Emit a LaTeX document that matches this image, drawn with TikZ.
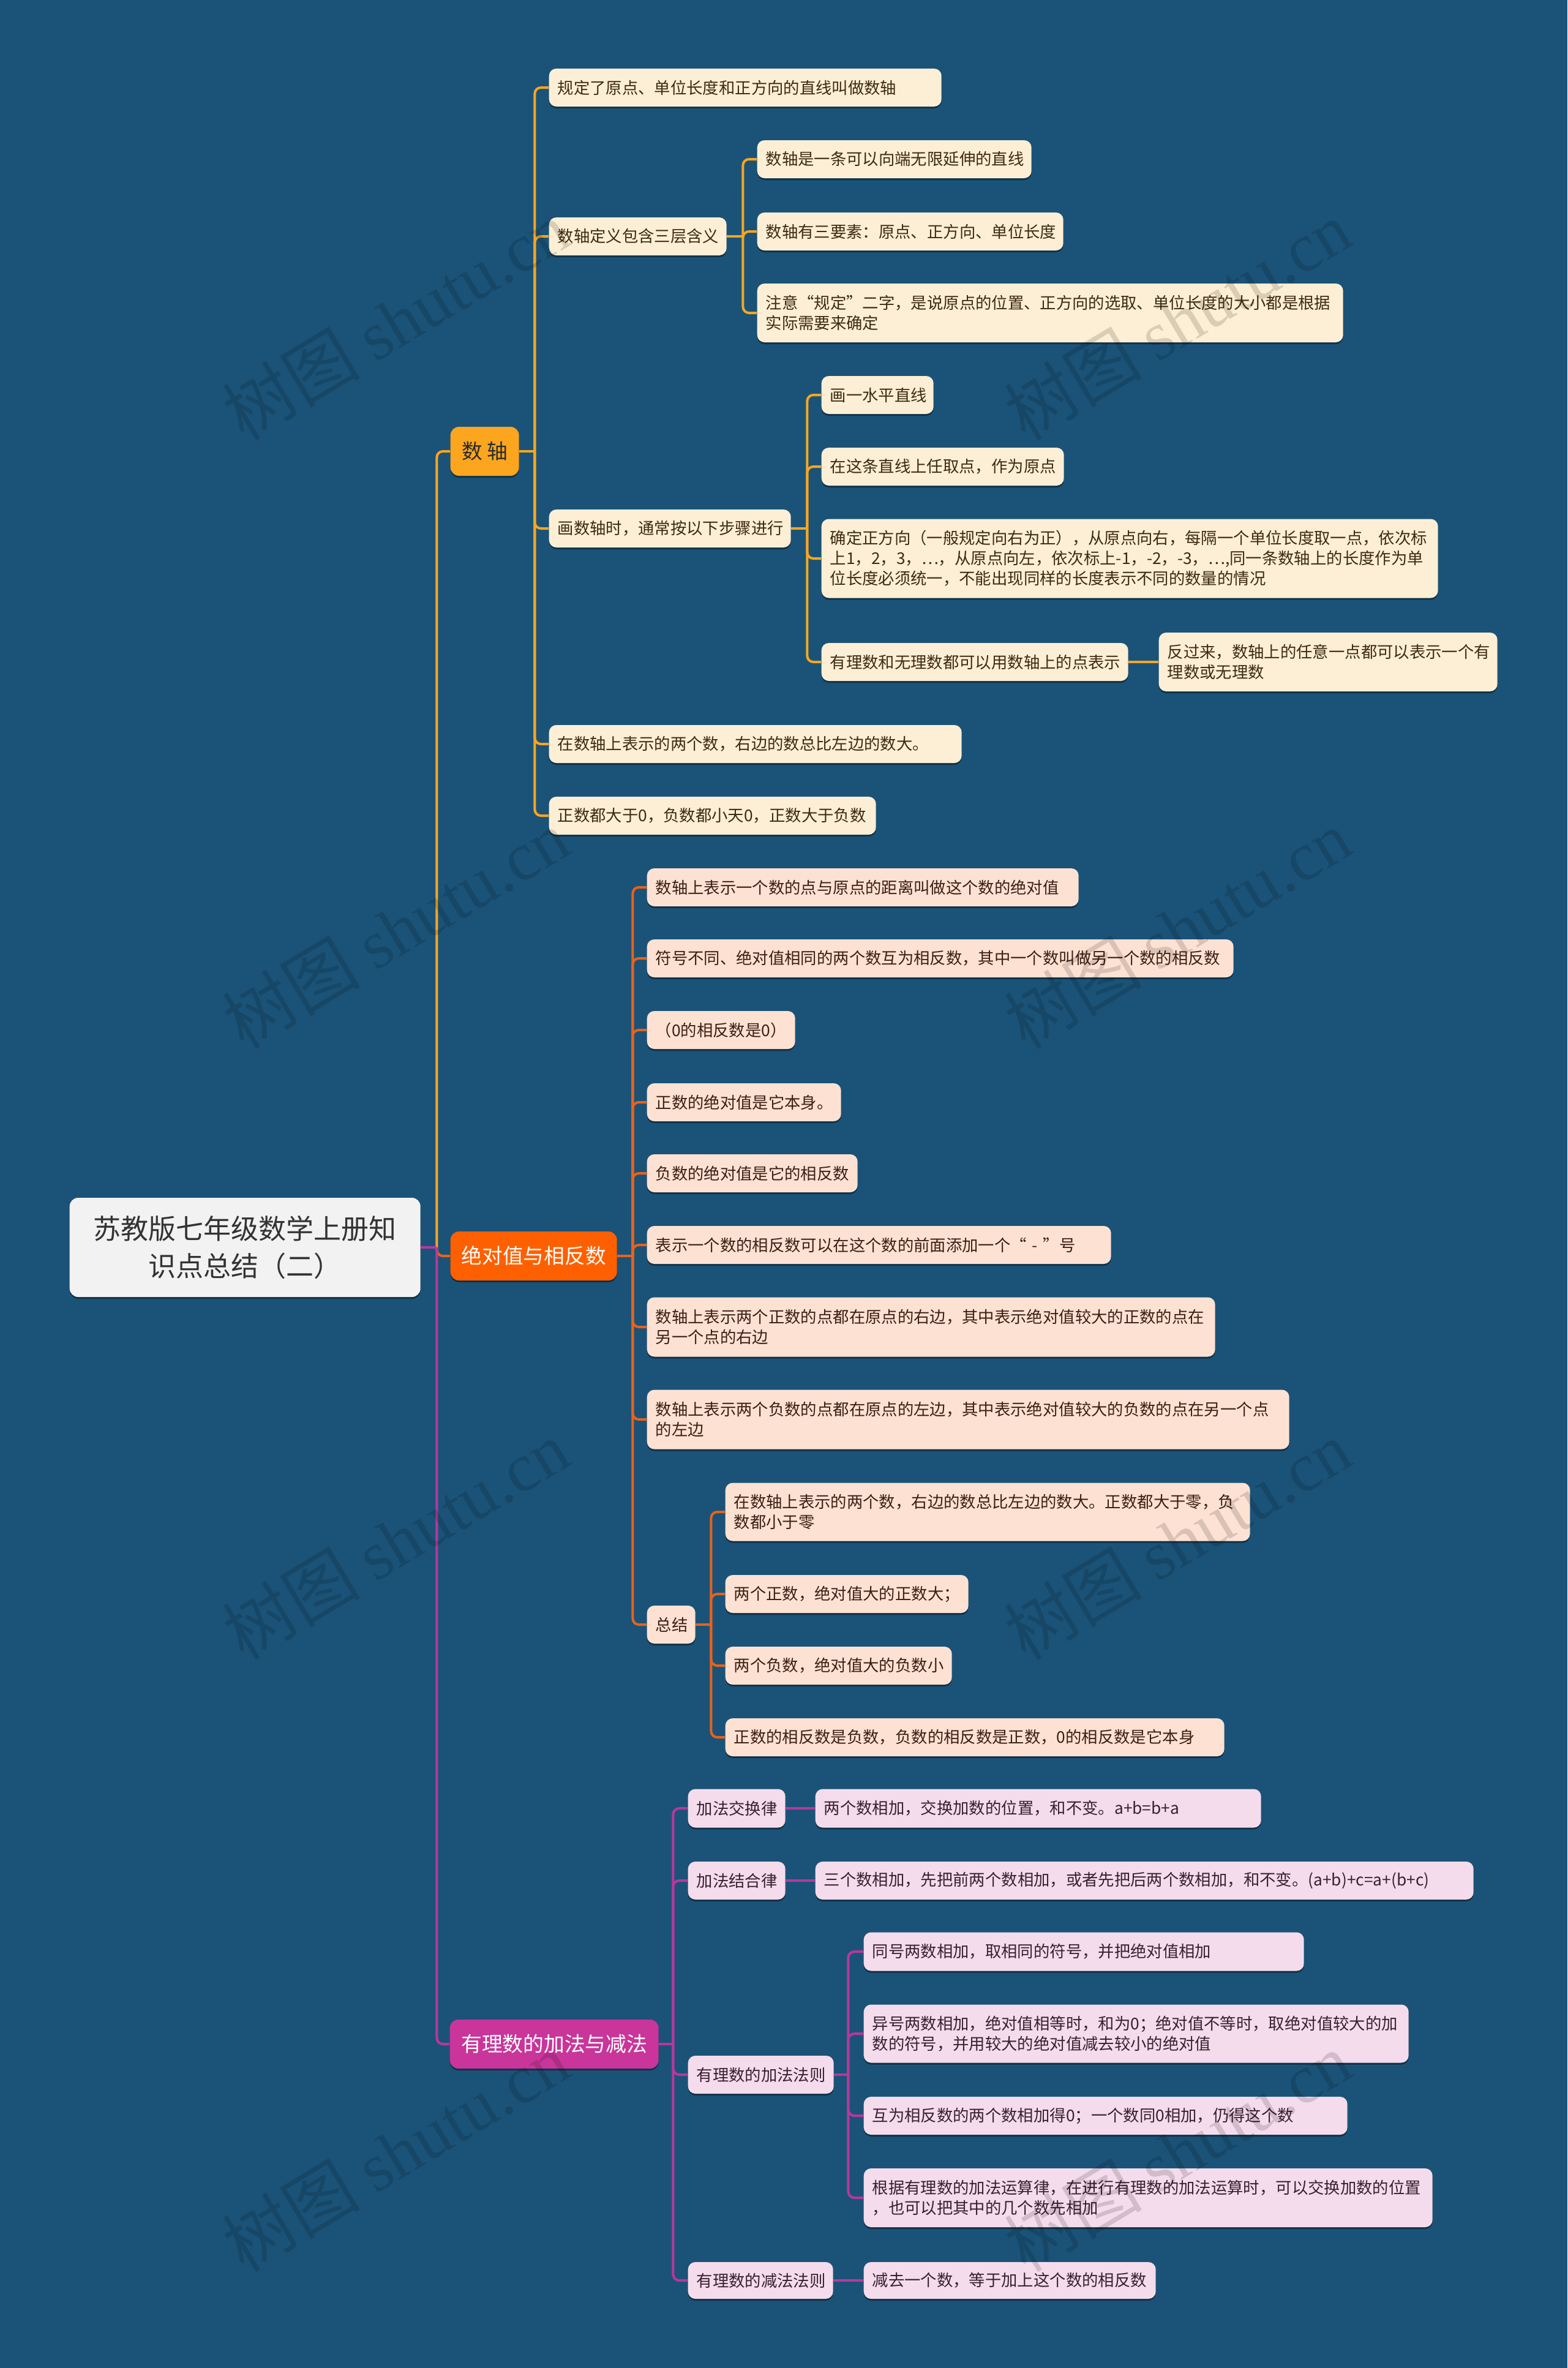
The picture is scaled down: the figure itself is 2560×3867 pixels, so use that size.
\documentclass[tikz,border=0pt]{standalone}
\usepackage{fontspec}
\setmainfont{Noto Sans CJK SC}
\newfontfamily\wmcjk{Noto Sans CJK SC}
\newfontfamily\wmlatin{Liberation Serif}
\usetikzlibrary{shadows}
\definecolor{bgc}{HTML}{1B5378}
\definecolor{yel}{HTML}{F5A623}
\definecolor{yelfill}{HTML}{FBA61E}
\definecolor{cream}{HTML}{FDEFD5}
\definecolor{creamtxt}{HTML}{3D2A12}
\definecolor{ora}{HTML}{E8621C}
\definecolor{orafill}{HTML}{FE6000}
\definecolor{peach}{HTML}{FDE2D3}
\definecolor{peachtxt}{HTML}{3D1E12}
\definecolor{mag}{HTML}{B8379E}
\definecolor{magfill}{HTML}{C9359A}
\definecolor{pink}{HTML}{F5DCEC}
\definecolor{pinktxt}{HTML}{3A1E33}
\definecolor{rootfill}{HTML}{F2F2F2}
\definecolor{roottxt}{HTML}{333333}
\definecolor{mainyeltxt}{HTML}{2B2B2B}
\tikzset{
  shad/.style={drop shadow={shadow xshift=0mm, shadow yshift=-0.3mm, opacity=0.4, fill=black}},
  box/.style={anchor=west, rounded corners=1.2mm, inner xsep=1.4mm, inner ysep=0.3mm,
    align=left, font=\fontsize{7.5pt}{9.4pt}\selectfont, shad},
  bw/.style={text width=#1*0.1mm-2.8mm},
  bh/.style={minimum height=#1*0.1mm},
  mw/.style={minimum width=#1*0.1mm},
  lA/.style={box, fill=cream, text=creamtxt},
  lB/.style={box, fill=peach, text=peachtxt},
  lC/.style={box, fill=pink, text=pinktxt},
  mainbox/.style={anchor=west, rounded corners=1.4mm, align=center, inner sep=0pt,
    minimum height=8mm, font=\fontsize{9.6pt}{11.5pt}\selectfont, shad},
  rootbox/.style={anchor=west, rounded corners=1.4mm, align=center, inner sep=0pt,
    fill=rootfill, text=roottxt, font=\fontsize{12.8pt}{17.6pt}\selectfont, shad},
  cY/.style={draw=yel, line width=0.4mm, rounded corners=1mm},
  cO/.style={draw=ora, line width=0.4mm, rounded corners=1mm},
  cM/.style={draw=mag, line width=0.4mm, rounded corners=1mm},
  wm/.style={rotate=31, text=black, opacity=0.14, inner sep=0pt}
}
\begin{document}
\begin{tikzpicture}[x=0.1mm,y=-0.1mm]
\fill[bgc] (0,0) rectangle (2560,3867);
\useasboundingbox (0,0) rectangle (2560,3867);

% root and main branches
\node[rootbox, mw=573, minimum height=16.2mm] (root) at (113,2037) {苏教版七年级数学上册知\\识点总结（二）};
\node[mainbox, fill=yelfill, text=mainyeltxt, mw=112] (sz) at (735,737) {数 轴};
\node[mainbox, fill=orafill, text=white, mw=272] (jd) at (735,2051) {绝对值与相反数};
\node[mainbox, fill=magfill, text=white, mw=341] (yl) at (734,3338) {有理数的加法与减法};

% 数轴
\node[lA, bw=641, bh=62] (a1) at (896,143) {规定了原点、单位长度和正方向的直线叫做数轴};
\node[lA, bw=290, bh=62] (a2) at (896,386) {数轴定义包含三层含义};
\node[lA, bw=448, bh=62] (a21) at (1236,260) {数轴是一条可以向端无限延伸的直线};
\node[lA, bw=500, bh=62] (a22) at (1236,378) {数轴有三要素：原点、正方向、单位长度};
\node[lA, bw=957, bh=96] (a23) at (1236,511) {注意“规定”二字，是说原点的位置、正方向的选取、单位长度的大小都是根据\\实际需要来确定};
\node[lA, bw=395, bh=62] (a3) at (896,863) {画数轴时，通常按以下步骤进行};
\node[lA, bw=183, bh=62] (a31) at (1341,645) {画一水平直线};
\node[lA, bw=396, bh=62] (a32) at (1341,762) {在这条直线上任取点，作为原点};
\node[lA, bw=1007, bh=129] (a33) at (1341,912) {确定正方向（一般规定向右为正），从原点向右，每隔一个单位长度取一点，依次标\\上1，2，3，…，从原点向左，依次标上-1，-2，-3，…,同一条数轴上的长度作为单\\位长度必须统一，不能出现同样的长度表示不同的数量的情况};
\node[lA, bw=501, bh=62] (a34) at (1341,1081) {有理数和无理数都可以用数轴上的点表示};
\node[lA, bw=553, bh=96] (a341) at (1892,1081) {反过来，数轴上的任意一点都可以表示一个有\\理数或无理数};
\node[lA, bw=674, bh=62] (a4) at (896,1215) {在数轴上表示的两个数，右边的数总比左边的数大。};
\node[lA, bw=534, bh=62] (a5) at (896,1332) {正数都大于0，负数都小天0，正数大于负数};

% 绝对值与相反数
\node[lB, bw=705, bh=62] (b1) at (1056,1449) {数轴上表示一个数的点与原点的距离叫做这个数的绝对值};
\node[lB, bw=958, bh=62] (b2) at (1056,1565) {符号不同、绝对值相同的两个数互为相反数，其中一个数叫做另一个数的相反数};
\node[lB, bw=242, bh=62] (b3) at (1056,1682) {（0的相反数是0）};
\node[lB, bw=317, bh=62] (b4) at (1056,1800) {正数的绝对值是它本身。};
\node[lB, bw=344, bh=62] (b5) at (1056,1916) {负数的绝对值是它的相反数};
\node[lB, bw=758, bh=62] (b6) at (1056,2033) {表示一个数的相反数可以在这个数的前面添加一个“ - ”号};
\node[lB, bw=928, bh=97] (b7) at (1056,2167) {数轴上表示两个正数的点都在原点的右边，其中表示绝对值较大的正数的点在\\另一个点的右边};
\node[lB, bw=1049, bh=97] (b8) at (1056,2318) {数轴上表示两个负数的点都在原点的左边，其中表示绝对值较大的负数的点在另一个点\\的左边};
\node[lB, bw=79, bh=62] (b9) at (1056,2653) {总结};
\node[lB, bw=857, bh=95] (b91) at (1184,2469) {在数轴上表示的两个数，右边的数总比左边的数大。正数都大于零，负\\数都小于零};
\node[lB, bw=397, bh=62] (b92) at (1184,2603) {两个正数，绝对值大的正数大；};
\node[lB, bw=370, bh=62] (b93) at (1184,2720) {两个负数，绝对值大的负数小};
\node[lB, bw=815, bh=62] (b94) at (1184,2837) {正数的相反数是负数，负数的相反数是正数，0的相反数是它本身};

% 有理数的加法与减法
\node[lC, bw=159, bh=63] (c1) at (1123,2953) {加法交换律};
\node[lC, bw=728, bh=63] (c11) at (1331,2953) {两个数相加，交换加数的位置，和不变。a+b=b+a};
\node[lC, bw=159, bh=62] (c2) at (1123,3071) {加法结合律};
\node[lC, bw=1075, bh=62] (c21) at (1331,3071) {三个数相加，先把前两个数相加，或者先把后两个数相加，和不变。(a+b)+c=a+(b+c)};
\node[lC, bw=238, bh=62] (c3) at (1123,3388) {有理数的加法法则};
\node[lC, bw=719, bh=63] (c31) at (1410,3187) {同号两数相加，取相同的符号，并把绝对值相加};
\node[lC, bw=890, bh=95] (c32) at (1410,3321) {异号两数相加，绝对值相等时，和为0；绝对值不等时，取绝对值较大的加\\数的符号，并用较大的绝对值减去较小的绝对值};
\node[lC, bw=790, bh=62] (c33) at (1410,3455) {互为相反数的两个数相加得0；一个数同0相加，仍得这个数};
\node[lC, bw=929, bh=96] (c34) at (1410,3589) {根据有理数的加法运算律，在进行有理数的加法运算时，可以交换加数的位置\\，也可以把其中的几个数先相加};
\node[lC, bw=237, bh=60] (c4) at (1123,3724) {有理数的减法法则};
\node[lC, bw=477, bh=60] (c41) at (1410,3724) {减去一个数，等于加上这个数的相反数};

% junctions
\coordinate (rj) at ([xshift=2.6mm]root.east);
\coordinate (szj) at ([xshift=2.5mm]sz.east);
\coordinate (a2j) at ([xshift=2.6mm]a2.east);
\coordinate (a3j) at ([xshift=2.6mm]a3.east);
\coordinate (jdj) at ([xshift=2.5mm]jd.east);
\coordinate (b9j) at ([xshift=2.5mm]b9.east);
\coordinate (ylj) at ([xshift=2.3mm]yl.east);
\coordinate (c3j) at ([xshift=2.3mm]c3.east);

% root connectors
\draw[cY] (rj) |- (sz.west);
\draw[cO] (rj) |- (jd.west);
\draw[cM] (rj) |- (yl.west);
\draw[cM] (root.east) -- (rj);

% 数轴 connectors
\draw[cY] (sz.east) -- (szj);
\foreach \c in {a1,a2,a3,a4,a5} {\draw[cY] (szj) |- (\c.west);}
\draw[cY] (a2.east) -- (a2j);
\foreach \c in {a21,a22,a23} {\draw[cY] (a2j) |- (\c.west);}
\draw[cY] (a3.east) -- (a3j);
\foreach \c in {a31,a32,a33,a34} {\draw[cY] (a3j) |- (\c.west);}
\draw[cY] (a34.east) -- (a341.west);

% 绝对值 connectors
\draw[cO] (jd.east) -- (jdj);
\foreach \c in {b1,b2,b3,b4,b5,b6,b7,b8,b9} {\draw[cO] (jdj) |- (\c.west);}
\draw[cO] (b9.east) -- (b9j);
\foreach \c in {b91,b92,b93,b94} {\draw[cO] (b9j) |- (\c.west);}

% 有理数 connectors
\draw[cM] (yl.east) -- (ylj);
\foreach \c in {c1,c2,c3,c4} {\draw[cM] (ylj) |- (\c.west);}
\draw[cM] (c1.east) -- (c11.west);
\draw[cM] (c2.east) -- (c21.west);
\draw[cM] (c4.east) -- (c41.west);
\draw[cM] (c3.east) -- (c3j);
\foreach \c in {c31,c32,c33,c34} {\draw[cM] (c3j) |- (\c.west);}

% watermarks
\foreach \wx/\wy [count=\i] in {646/523,1923/523,646/1517,1923/1517,646/2515,1923/2515,646/3514,1923/3514} {
  \node[wm] (wm\i) at (\wx,\wy) {\fontsize{32pt}{32pt}\selectfont\wmcjk 树图\ \wmlatin shutu.cn};
}
\end{tikzpicture}
\end{document}
